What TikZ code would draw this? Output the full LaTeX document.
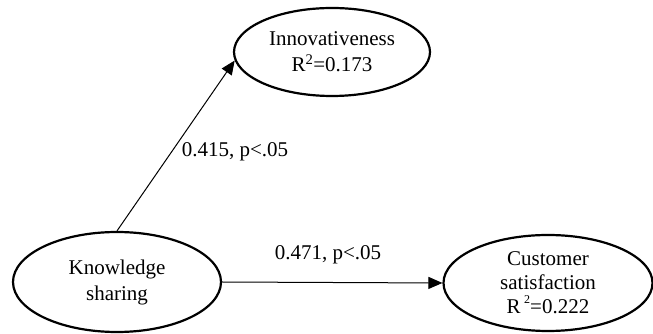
\documentclass[tikz,border=0pt]{standalone}
\usepackage{fontspec}
\setmainfont{Liberation Serif}
\usetikzlibrary{shapes.geometric,arrows.meta}
\begin{document}
\begin{tikzpicture}[x=1pt,y=1pt,
  latent/.style={ellipse,draw,line width=2.2pt,inner sep=0pt,align=center,
    font=\fontsize{21}{26}\selectfont},
  path/.style={line width=1pt,-{Triangle[length=14pt,width=12pt]}},
  lbl/.style={inner sep=0pt,font=\fontsize{21}{26}\selectfont}]
\useasboundingbox (0,0) rectangle (653,334);
\node[latent,minimum width=196pt,minimum height=88pt] (inn) at (332,282)
  {Innovativeness\\R\textsuperscript{2}=0.173};
\node[latent,minimum width=208pt,minimum height=100pt] (ks) at (117,52)
  {Knowledge\\sharing};
\node[latent,minimum width=209pt,minimum height=96pt,
  font=\fontsize{21}{24}\selectfont] (cs) at (548,51)
  {Customer\\satisfaction\\R\,\raisebox{10pt}{\fontsize{12}{12}\selectfont 2}=0.222};
\draw[path] (ks.north) -- (inn.185);
\draw[path] (ks.east) -- (cs.west);
\node[lbl] (l1) at (235,182) {0.415, p<.05};
\node[lbl] (l2) at (328,79) {0.471, p<.05};
\end{tikzpicture}
\end{document}
